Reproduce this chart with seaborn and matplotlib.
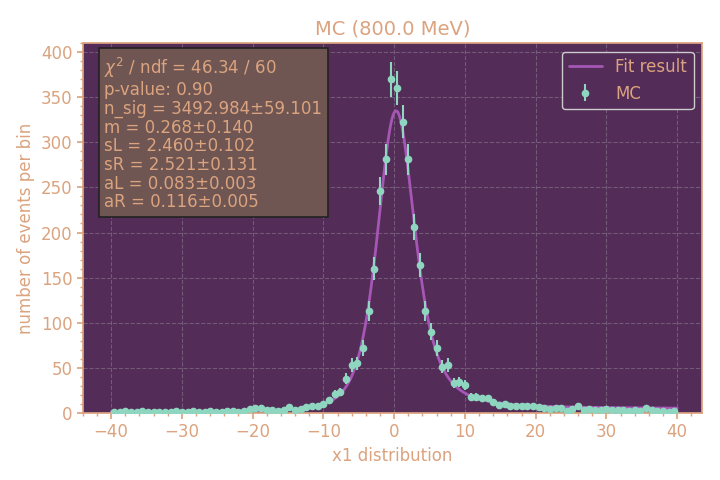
import numpy as np
import matplotlib
matplotlib.use("Agg")
import matplotlib.pyplot as plt
import seaborn as sns
from matplotlib.ticker import AutoMinorLocator

sns.set_theme(style="dark")
plt.rcParams['font.family'] = ['DejaVu Sans']

bin_lo, bin_hi, nbins = -40.0, 40.0, 100
counts = [1,1,2,1,1,2,1,1,1,1,
          1,2,1,1,2,1,1,2,1,1,
          2,2,1,2,4,5,5,3,3,2,
          3,6,3,4,6,8,7,10,14,21,
          23,38,53,55,72,113,160,246,281,370,
          360,323,281,206,164,113,90,72,51,53,
          33,34,31,18,18,16,16,12,9,10,
          8,8,7,7,7,6,5,4,5,5,
          2,4,8,3,4,3,3,4,3,3,
          3,2,3,2,5,3,2,2,1,2]
n_sig, m, sL, sR, aL, aR = 3492.984, 0.268, 2.460, 2.521, 0.083, 0.116

edges = np.linspace(bin_lo, bin_hi, nbins + 1)
centers = 0.5 * (edges[:-1] + edges[1:])
bw = edges[1] - edges[0]
y = np.array(counts, float)
err = np.sqrt(y)

def shape(x):
    dx = x - m
    s = np.where(dx < 0, sL, sR)
    a = np.where(dx < 0, aL, aR)
    return np.exp(-dx**2 / (2 * s**2 + 2 * a * dx**2))

xs = np.linspace(-40, 40, 2000)
norm = np.trapezoid(shape(xs), xs)
fit = n_sig * bw * shape(xs) / norm

txt = "#dba37f"
fig, ax = plt.subplots(figsize=(7.2, 4.8), dpi=100)
fig.patch.set_facecolor("white")
ax.set_facecolor("#532c57")
sns.lineplot(x=xs, y=fit, ax=ax, color="#a657b5", lw=2, label="Fit result")
ax.errorbar(centers, y, yerr=err, fmt="o", ms=4.5, color="#8fd6c0", elinewidth=1.5, label="MC", zorder=3)
ax.set_xlim(-44, 43.5)
ax.set_ylim(0, 410)
ax.grid(True, color="#8a7a8f", ls="--", lw=0.8, alpha=0.6)
for s in ax.spines.values():
    s.set_color(txt)
ax.tick_params(colors=txt, labelsize=12, which="both", bottom=True, left=True, length=4)
ax.tick_params(which="minor", length=2.5)
ax.xaxis.set_minor_locator(AutoMinorLocator(5))
ax.yaxis.set_minor_locator(AutoMinorLocator(5))
ax.set_xlabel("x1 distribution", color=txt, fontsize=12)
ax.set_ylabel("number of events per bin", color=txt, fontsize=12)
ax.set_title("MC (800.0 MeV)", color=txt, fontsize=14)
leg = ax.legend(loc="upper right", fontsize=12, facecolor="#532c57", edgecolor="#cccccc", framealpha=1)
for t in leg.get_texts():
    t.set_color(txt)
info = ("$\\chi^2$ / ndf = 46.34 / 60\np-value: 0.90\nn_sig = 3492.984±59.101\n"
        "m = 0.268±0.140\nsL = 2.460±0.102\nsR = 2.521±0.131\naL = 0.083±0.003\naR = 0.116±0.005")
ax.text(0.035, 0.965, info, transform=ax.transAxes, va="top", ha="left", color=txt, fontsize=12,
        linespacing=1.05,
        bbox=dict(boxstyle="square,pad=0.35", facecolor="#6f5652", edgecolor="#222222", lw=1.2))
fig.subplots_adjust(left=0.115, right=0.975, top=0.91, bottom=0.14)
fig.savefig("out.png", dpi=100)
